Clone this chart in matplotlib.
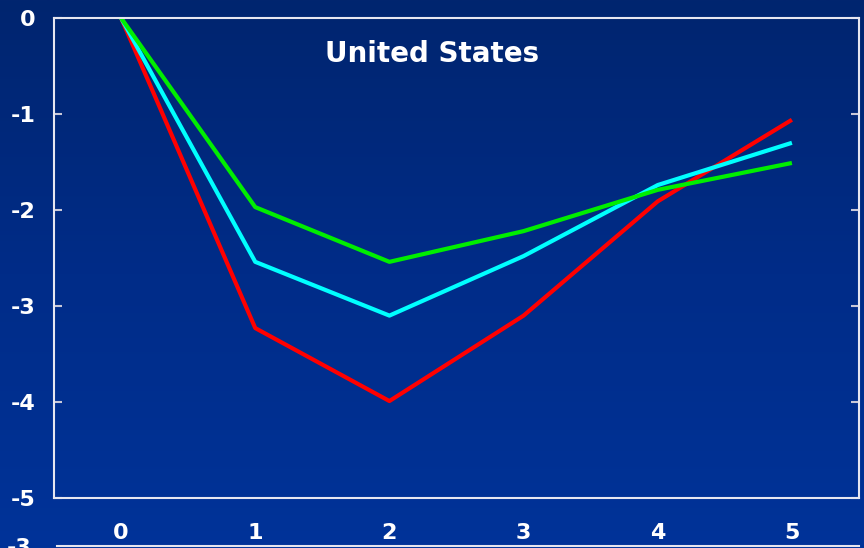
import numpy as np
import matplotlib
matplotlib.use("Agg")
import matplotlib.pyplot as plt
from matplotlib.colors import LinearSegmentedColormap

# Horizon (years) and responses for the three scenarios
years = [0, 1, 2, 3, 4, 5]
red_series = [0.0, -3.23, -3.99, -3.10, -1.91, -1.06]
cyan_series = [0.0, -2.54, -3.10, -2.48, -1.74, -1.30]
green_series = [0.0, -1.97, -2.54, -2.22, -1.79, -1.51]
y_ticks = [0, -1, -2, -3, -4, -5]

fig = plt.figure(figsize=(8.64, 5.48), dpi=100)

# slide background: vertical blue gradient, darker towards the top
bg = fig.add_axes([0, 0, 1, 1], zorder=-10)
grad = LinearSegmentedColormap.from_list("slide", ["#003399", "#002c88", "#01256f"])
bg.imshow(np.linspace(0, 1, 256).reshape(-1, 1), aspect="auto", cmap=grad,
          extent=[0, 1, 0, 1], origin="lower")
bg.axis("off")

ax = fig.add_axes([54 / 864, 1 - 498 / 548, 805 / 864, 480 / 548])
ax.set_facecolor("none")

ax.plot(years, red_series, color="#ff0000", lw=3, solid_capstyle="butt")
ax.plot(years, cyan_series, color="#00ffff", lw=3, solid_capstyle="butt")
ax.plot(years, green_series, color="#00ee00", lw=3, solid_capstyle="butt")

ax.set_xlim(-0.5, 5.5)
ax.set_ylim(-5, 0)
ax.set_xticks(years)
ax.set_yticks(y_ticks)
ax.set_xticklabels([str(v) for v in years])
ax.set_yticklabels([str(v) for v in y_ticks])

for side in ["left", "right", "top", "bottom"]:
    ax.spines[side].set_color("#e6e6f0")
    ax.spines[side].set_linewidth(1.5)

ax.tick_params(axis="y", direction="in", length=6, width=1.5, color="#c8c8d8",
               right=True, labelsize=16, labelcolor="white", pad=13)
ax.tick_params(axis="x", length=0, labelsize=16, labelcolor="white", pad=18)
for lbl in ax.get_xticklabels() + ax.get_yticklabels():
    lbl.set_fontweight("bold")

ax.text(0.47, 0.925, "United States", transform=ax.transAxes, ha="center", va="center",
        color="white", fontsize=20, fontweight="bold")

# next panel peeking in at the bottom edge
ax2 = fig.add_axes([57 / 864, 2 / 548 - 0.5, 802 / 864, 0.5])
ax2.set_facecolor("none")
ax2.set_ylim(-5, -3)
ax2.set_yticks([-3])
ax2.set_yticklabels(["-3"])
ax2.set_xticks([])
for side in ["left", "right", "bottom"]:
    ax2.spines[side].set_visible(False)
ax2.spines["top"].set_color("#e6e6f0")
ax2.spines["top"].set_linewidth(1.5)
ax2.tick_params(axis="y", length=0, labelsize=16, labelcolor="white", pad=18)
for lbl in ax2.get_yticklabels():
    lbl.set_fontweight("bold")

fig.savefig("out.png", dpi=100)
